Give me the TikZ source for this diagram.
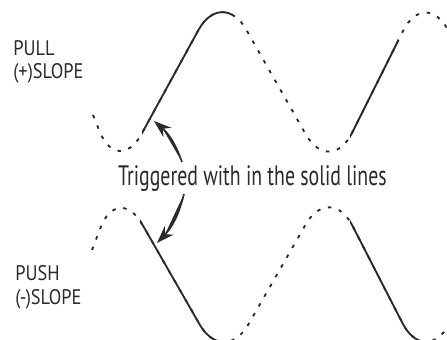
\documentclass[tikz,border=0pt]{standalone}
\usepackage{fontspec}
\usepackage{xcolor}
\usepackage{tikz}
\newfontfamily\labelfont{PT Sans}[FakeStretch=0.87]
\newfontfamily\trigfont{PT Sans}[FakeStretch=0.705]
\definecolor{inkgray}{HTML}{2A2A2A}
\usetikzlibrary{arrows.meta}

%% wave outlines (picture units = pixels)
\newcommand{\pullwave}{(93,115) -- (118,177) -- (222,-13) -- (330,177) -- (425,-13) -- (461,54)}
\newcommand{\pushwave}{(92,250) -- (118,182) -- (224,367) -- (330,182) -- (425,367) -- (462,302)}

\begin{document}
\begin{tikzpicture}[
          x=0.02cm, y=-0.02cm,
          every node/.style = {text=inkgray, inner sep=0pt},
          side/.style = {font=\labelfont\fontsize{12}{13.5}\selectfont, align=left, anchor=north west},
          note/.style = {font=\trigfont\fontsize{16}{18}\selectfont, anchor=base},
          wave/.style = {draw=inkgray, line width=1.05pt, rounded corners=28pt},
          dotwave/.style = {wave, dash pattern=on 2pt off 4.4pt},
          arr/.style = {-{Stealth[length=10pt, width=7pt]}, draw=inkgray, fill=inkgray, line width=0.9pt},
        ]
        \useasboundingbox (0,0) rectangle (447,340);
        \clip (0,0) rectangle (447,340);

        %% Nodes
        \node[side] (pull) at (13,40) {PULL\\(+)SLOPE};
        \node[side] (push) at (15,265) {PUSH\\(-)SLOPE};
        \node[note] (trig) at (252.5,186) {Triggered with in the solid lines};

        %% Waves: dotted everywhere, solid where triggered
        \draw[dotwave] \pullwave;
        \begin{scope}
          \clip (142,0) rectangle (233,340) (350,0) rectangle (398,340);
          \draw[wave] \pullwave;
        \end{scope}
        \draw[dotwave] \pushwave;
        \begin{scope}
          \clip (140,0) rectangle (226,340) (350,0) rectangle (427,340);
          \draw[wave] \pushwave;
        \end{scope}

        %% Arrows to the solid lines
        \coordinate (uptail) at (182,162);
        \coordinate (pulltap) at (154,121);
        \coordinate (downtail) at (184,194);
        \coordinate (pushtap) at (157,243);
        \draw[arr] (uptail) to[bend right=15] (pulltap);
        \draw[arr] (downtail) to[bend left=15] (pushtap);
      \end{tikzpicture}
\end{document}
